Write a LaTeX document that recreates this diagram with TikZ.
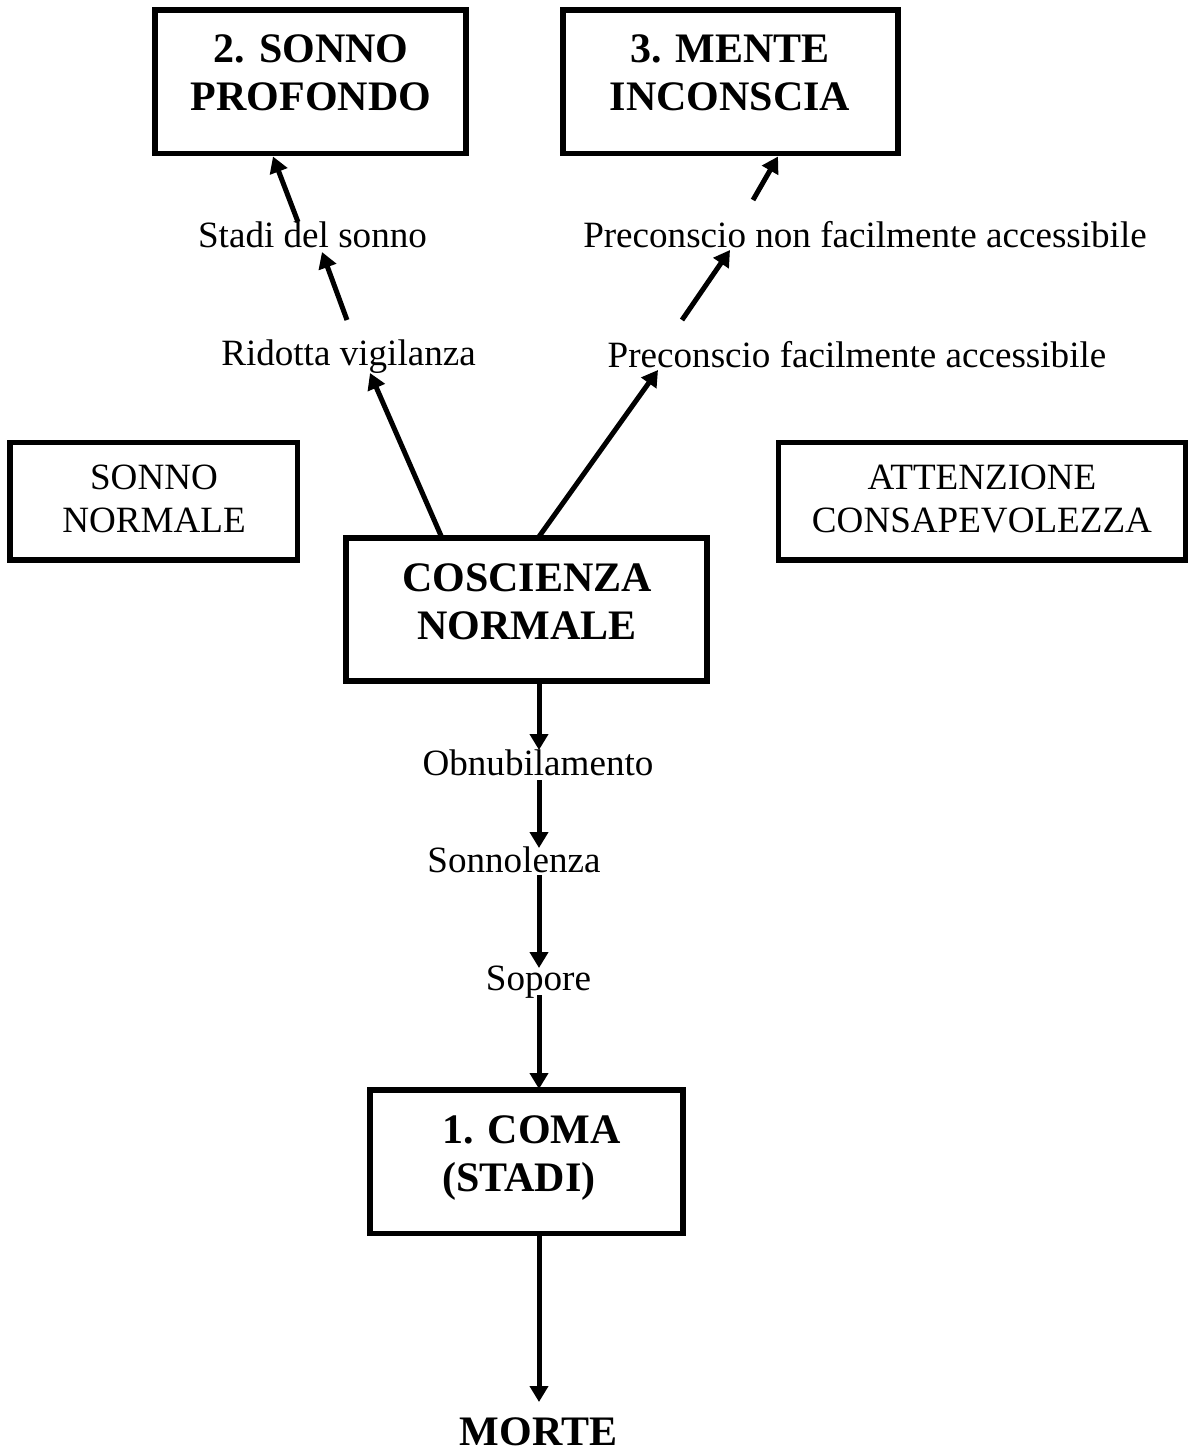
\documentclass[tikz,border=0pt]{standalone}
\usepackage{fontspec}
\setmainfont{Liberation Serif}
\usetikzlibrary{arrows.meta,calc}
\begin{document}
\begin{tikzpicture}[x=0.5pt,y=-0.5pt,
  box/.style={draw, line width=2.9pt, inner sep=0pt, outer sep=0pt},
  sidebox/.style={draw, line width=2.7pt, inner sep=0pt, outer sep=0pt},
  boldtxt/.style={font=\fontsize{21}{24}\selectfont\bfseries, align=center, inner sep=0pt, anchor=base},
  plaintxt/.style={font=\fontsize{18.55}{21.3}\selectfont, align=center, inner sep=0pt, anchor=base},
  flow/.style={line width=2.5pt, -{Triangle[length=8pt,width=9pt]}}]
\useasboundingbox (0,0) rectangle (1197,1456);

% framed boxes
\node[box, minimum width=155.5pt, minimum height=71.75pt] (sp) at (310.5,81.75) {};
\node[box, minimum width=167.5pt, minimum height=71.75pt] (mi) at (730.5,81.75) {};
\node[sidebox, minimum width=143.75pt, minimum height=58.75pt] (sn) at (153.75,501.25) {};
\node[sidebox, minimum width=203.5pt, minimum height=58.75pt] (at) at (982,501.25) {};
\node[box, minimum width=180.5pt, minimum height=71.5pt] (cn) at (526.5,609.5) {};
\node[box, minimum width=156.5pt, minimum height=71.75pt] (coma) at (526.5,1161.75) {};

% box captions (anchored on the baseline of their last line)
\node[boldtxt] (sptext) at (311,110) {2. SONNO\\PROFONDO};
\node[boldtxt] (mitext) at (730,110) {3. MENTE\\INCONSCIA};
\node[plaintxt] (sntext) at (154,532) {SONNO\\NORMALE};
\node[plaintxt] (attext) at (982,532) {ATTENZIONE\\CONSAPEVOLEZZA};
\node[boldtxt] (cntext) at (527,639) {COSCIENZA\\NORMALE};
\node[boldtxt, align=left, anchor=base west] (comatext) at (442,1191) {1. COMA\\(STADI)};
\node[boldtxt, text depth=0pt] (morte) at (538.5,1445) {MORTE};

% intermediate states
\node[plaintxt] (sta) at (312.5,247) {Stadi del sonno};
\node[plaintxt] (rid) at (348.5,365) {Ridotta vigilanza};
\node[plaintxt] (pnfa) at (865,247) {Preconscio non facilmente accessibile};
\node[plaintxt] (pfa) at (857,367) {Preconscio facilmente accessibile};
\node[plaintxt] (obn) at (538,775) {Obnubilamento};
\node[plaintxt] (sonn) at (514,872) {Sonnolenza};
\node[plaintxt] (sop) at (538.5,990) {Sopore};

% left branch: towards deep sleep
\draw[flow] ($(cn.north west)+(96,0)$) -- ($(rid.base)+(21.5,8)$);
\draw[flow] ($(rid.base)+(-1.5,-45)$) -- ($(sta.base)+(9.5,5)$);
\draw[flow] ($(sta.base)+(-14.5,-25)$) -- ($(sp.south west)+(118,3)$);

% right branch: towards the unconscious mind
\draw[flow] ($(cn.north west)+(192,0)$) -- ($(pfa.base)+(-199,3)$);
\draw[flow] ($(pfa.base)+(-175,-47)$) -- ($(pnfa.base)+(-135,3)$);
\draw[flow] ($(pnfa.base)+(-112,-47)$) -- ($(mi.south west)+(215,3)$);

% downward chain: towards coma and death
\draw[flow] ($(cn.south west)+(193,0)$) -- ($(obn.base)+(1,-25)$);
\draw[flow] ($(obn.base)+(1,5)$) -- ($(sonn.base)+(25,-24)$);
\draw[flow] ($(sonn.base)+(25,3)$) -- ($(sop.base)+(0.5,-22)$);
\draw[flow] ($(sop.base)+(0.5,5)$) -- ($(coma.north west)+(169,-1)$);
\draw[flow] ($(coma.south west)+(169,0)$) -- ($(morte.base)+(0.5,-43)$);
\end{tikzpicture}
\end{document}
